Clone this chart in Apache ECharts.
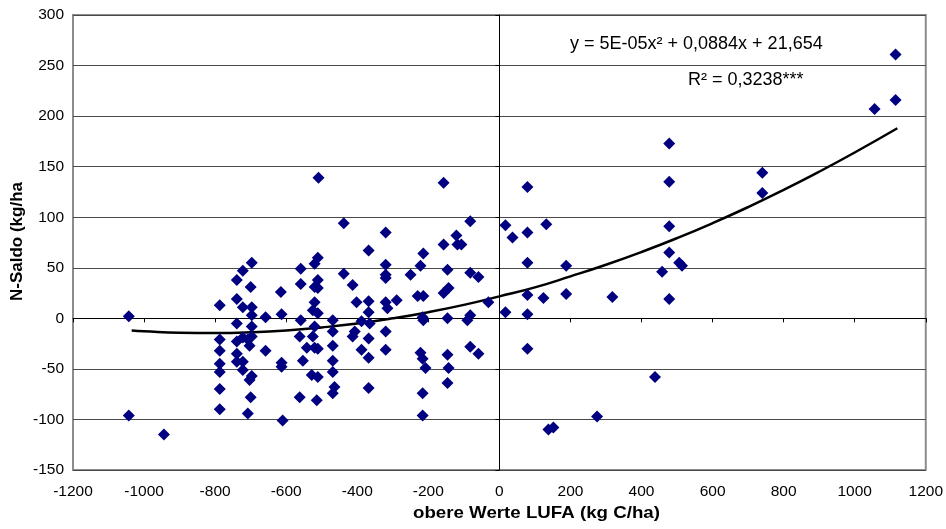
<!DOCTYPE html>
<html><head><meta charset="utf-8">
<script src="https://cdn.jsdelivr.net/npm/echarts@6/dist/echarts.min.js"></script>
<style>html,body{margin:0;padding:0;background:#fff}#c{width:946px;height:529px}</style>
</head><body><div id="c"></div>
<script>
// Scatter data: [obere Werte LUFA (kg C/ha), N-Saldo (kg/ha)]
const pointsX = [
 -1043,-1043,-944,
 -787,-787,-787,-787,-787,-787,-787,
 -739,-739,-739,-739,-739,-739,
 -722,-722,-722,-722,-722,
 -697,-700,-697,-697,-697,-697,-708,-703,-697,-703,-700,-708,
 -658,-658,-615,-613,-613,-613,-610,
 -559,-559,-559,-562,-542,-553,-562,
 -520,-525,-520,-511,-528,-511,-514,-525,-511,-520,
 -509,-511,-520,-520,-511,-511,
 -469,-469,-469,-469,-469,-464,-469,
 -438,-438,-413,-402,-388,-407,-413,-388,
 -368,-368,-368,-365,-368,-368,-368,
 -320,-320,-320,-320,-320,-315,-320,-320,-289,
 -250,-230,-222,-214,-214,-216,-214,-222,-216,-208,-216,-216,
 -157,-157,-157,-146,-143,-146,-146,-143,-146,
 -121,-118,-107,-82,-82,-59,-90,-82,-82,-59,-31,
 17,37,79,79,132,79,188,79,124,188,318,17,79,79,138,152,275,438,
 458,478,478,478,478,478,506,514,740,740,1056,1115,1115
];
const pointsY = [
 2,-96,-115,
 13,-21,-32,-45,-53,-70,-90,
 38,19,-5,-23,-35,-43,
 47,11,-19,-43,-51,
 55,31,11,3,-8,-18,-21,-27,-57,-61,-78,-94,
 1,-32,26,4,-44,-48,-101,
 49,34,-2,-18,-29,-42,-78,
 -29,-18,-8,5,-56,-58,-81,8,-30,16,
 139,60,54,31,30,38,
 -2,-13,-27,-42,-53,-68,-74,
 94,44,33,16,-3,-13,-18,-31,
 67,17,6,-5,-20,-39,-69,
 85,53,43,40,16,10,-13,-31,18,
 43,22,52,64,22,1,-2,-34,-40,-49,-74,-96,
 134,73,25,48,30,0,-36,-49,-64,
 82,73,73,96,45,41,-2,3,-28,-35,16,
 92,80,130,85,93,55,52,23,20,24,21,6,4,-30,-110,-108,-97,-58,
 46,173,135,91,65,19,55,52,144,124,207,261,216
];
// Trend curve (polynomial fit)
const trendX = [-1035,-1000,-900,-800,-700,-600,-500,-400,-300,-200,-100,0,100,200,300,400,500,600,700,800,900,1000,1120];
const trendY = [-12,-12.7,-14.2,-14.5,-13.8,-12,-9,-5.1,0,6.1,13.3,21.7,30.6,41.5,53,65.6,79.3,94.1,110,127,145,164,188];
const xTicks = {min:-1200, max:1200, step:200};
const yTicks = {min:-150, max:300, step:50};
const xTitle = 'obere Werte LUFA (kg C/ha)';
const yTitle = 'N-Saldo (kg/ha';
const eqText = 'y = 5E-05x² + 0,0884x + 21,654';
const r2Text = 'R² = 0,3238***';

const FONT = 'Liberation Sans, Arial, sans-serif';
const chart = echarts.init(document.getElementById('c'), null, {renderer:'canvas'});
const scatterData = pointsX.map((x,i)=>[x, pointsY[i]]);
const trendData = trendX.map((x,i)=>[x, trendY[i]]);
const plain = v => String(v);

chart.setOption({
  animation:false,
  backgroundColor:'#fff',
  grid:{left:73, right:19, top:15, bottom:59, show:true, borderColor:'#8c8c8c', borderWidth:2, backgroundColor:'transparent'},
  xAxis:[
    {type:'value', min:xTicks.min, max:xTicks.max, interval:xTicks.step,
     axisLine:{show:true, onZero:true, lineStyle:{color:'#000', width:1}},
     axisTick:{show:true, length:4, lineStyle:{color:'#000'}},
     axisLabel:{show:false}, splitLine:{show:false}},
    {type:'value', position:'bottom', min:xTicks.min, max:xTicks.max, interval:xTicks.step,
     axisLine:{show:false}, axisTick:{show:false}, splitLine:{show:false},
     axisLabel:{show:true, margin:14, fontSize:15.5, color:'#000', fontFamily:FONT, formatter:plain}}
  ],
  yAxis:[
    {type:'value', min:yTicks.min, max:yTicks.max, interval:yTicks.step,
     axisLine:{show:true, onZero:true, lineStyle:{color:'#000', width:1}},
     axisTick:{show:true, length:4, lineStyle:{color:'#000'}},
     axisLabel:{show:false},
     splitLine:{show:true, lineStyle:{color:'#4a4a4a', width:1}}},
    {type:'value', position:'left', min:yTicks.min, max:yTicks.max, interval:yTicks.step,
     axisLine:{show:false}, axisTick:{show:false}, splitLine:{show:false},
     axisLabel:{show:true, margin:9, fontSize:15.5, color:'#000', fontFamily:FONT, formatter:plain}}
  ],
  series:[
    {type:'line', data:trendData, xAxisIndex:0, yAxisIndex:0, smooth:true, showSymbol:false, symbol:'none',
     lineStyle:{color:'#000', width:2.5}, z:2, silent:true},
    {type:'scatter', data:scatterData, xAxisIndex:0, yAxisIndex:0, symbol:'diamond', symbolSize:12,
     itemStyle:{color:'#000080', opacity:1}, z:3}
  ],
  graphic:[
    {type:'text', left:570, top:35, style:{text:eqText, font:'18px '+FONT, fill:'#000'}},
    {type:'text', left:688, top:71, style:{text:r2Text, font:'18px '+FONT, fill:'#000'}},
    {type:'text', x:413, y:505, scaleX:1.1, style:{text:xTitle, font:'bold 17px '+FONT, fill:'#000'}},
    {type:'text', x:9, y:301, rotation:Math.PI/2, style:{text:yTitle, font:'bold 17px '+FONT, fill:'#000', textVerticalAlign:'top'}}
  ]
});
</script></body></html>
